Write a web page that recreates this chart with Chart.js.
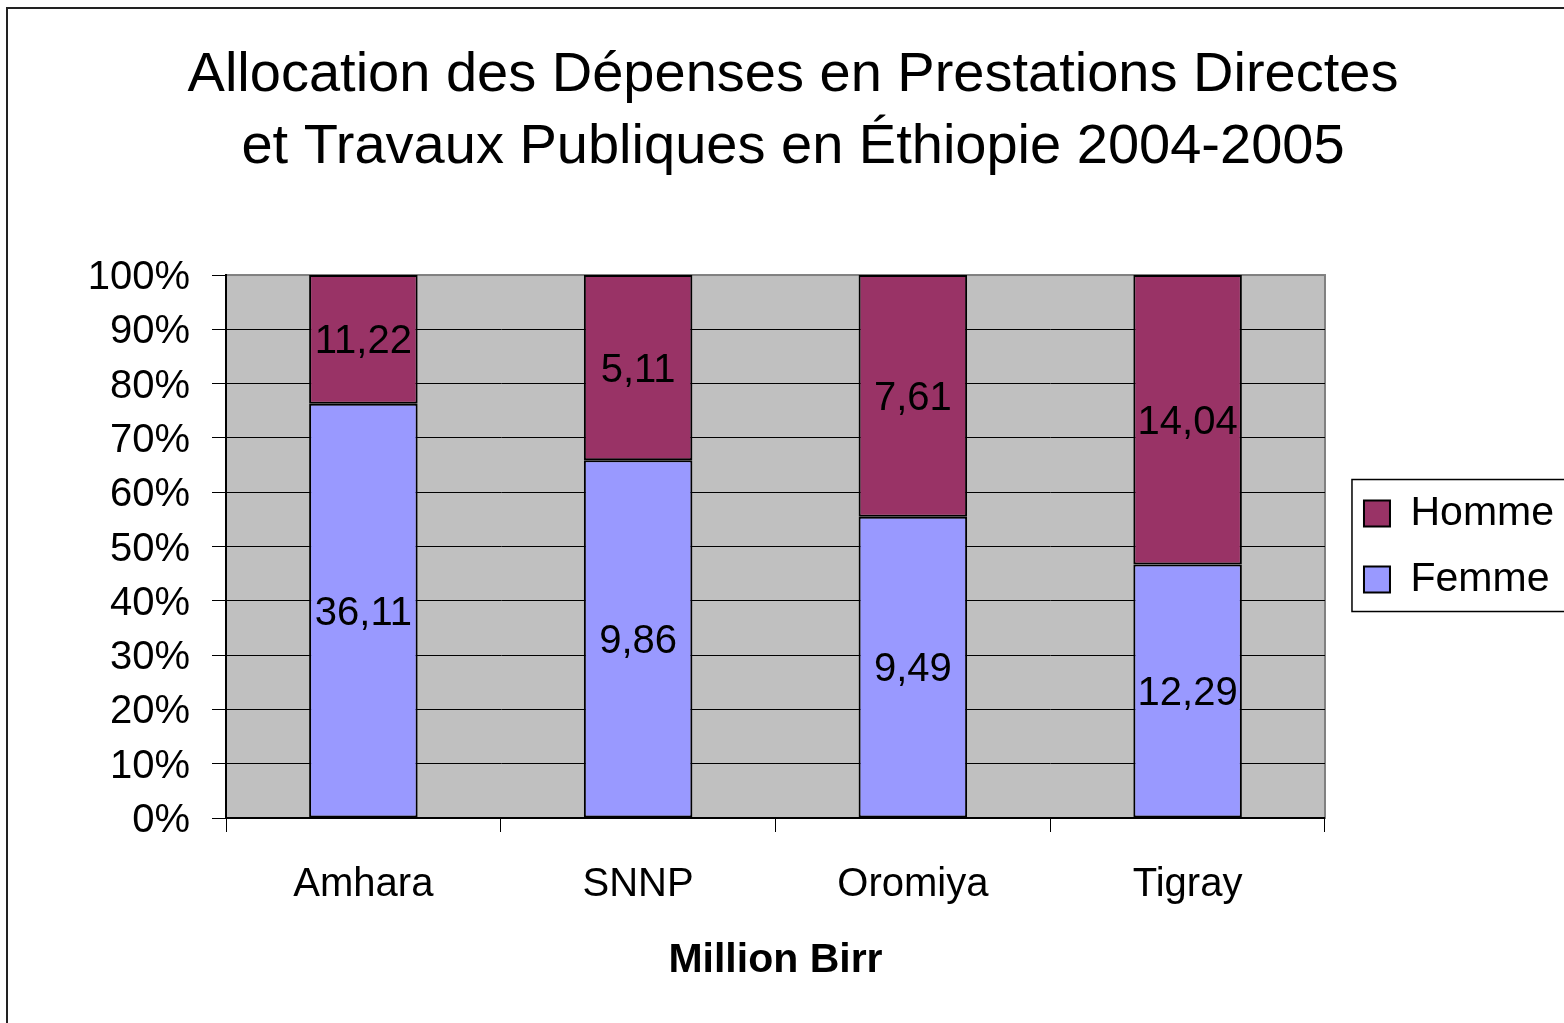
<!DOCTYPE html>
<html>
<head>
<meta charset="utf-8">
<script src="https://cdn.jsdelivr.net/npm/chart.js@4"></script>
<style>
html, body { margin: 0; padding: 0; background: #fff; overflow: hidden; width: 1564px; height: 1023px; }
#frame { position: absolute; left: 6px; top: 7px; width: 1700px; height: 1200px; border-left: 2px solid #222; border-top: 2px solid #222; }
canvas { position: absolute; left: 0; top: 0; }
</style>
</head>
<body>
<div id="frame"></div>
<canvas id="myChart" width="1564" height="1023"></canvas>
<script>
const regions = ['Amhara', 'SNNP', 'Oromiya', 'Tigray'];
const femme = [36.11, 9.86, 9.49, 12.29];
const homme = [11.22, 5.11, 7.61, 14.04];
const yTicks = [0, 10, 20, 30, 40, 50, 60, 70, 80, 90, 100];

// 100% stacked: share of each region's total
const femmePct = femme.map((v, i) => v / (v + homme[i]) * 100);
const hommePct = homme.map((v, i) => v / (femme[i] + v) * 100);

const FONT = '"Liberation Sans", Arial, sans-serif';
Chart.defaults.font.family = FONT;
Chart.defaults.color = '#000';

const plotBg = {
    id: 'plotBg',
    beforeDraw(chart) {
        const { ctx, chartArea: a } = chart;
        ctx.save();
        ctx.fillStyle = '#C0C0C0';
        ctx.fillRect(a.left, a.top, a.width, a.height);
        ctx.strokeStyle = '#808080';
        ctx.lineWidth = 2;
        ctx.strokeRect(a.left, a.top, a.width, a.height);
        ctx.restore();
    }
};

const valueLabels = {
    id: 'valueLabels',
    afterDatasetsDraw(chart) {
        const ctx = chart.ctx;
        ctx.save();
        ctx.font = '40px ' + FONT;
        ctx.fillStyle = '#000';
        ctx.textAlign = 'center';
        ctx.textBaseline = 'middle';
        chart.data.datasets.forEach((ds, i) => {
            chart.getDatasetMeta(i).data.forEach((bar, j) => {
                const y = (bar.y + bar.base) / 2 + 3;
                ctx.fillText(ds.raw[j].toFixed(2).replace('.', ','), bar.x, y);
            });
        });
        ctx.restore();
    }
};

const legendFrame = {
    id: 'legendFrame',
    afterDraw(chart) {
        const boxes = chart.legend && chart.legend.legendHitBoxes;
        if (!boxes || !boxes.length) return;
        const ctx = chart.ctx;
        const first = boxes[0], last = boxes[boxes.length - 1];
        const left = first.left - 12;
        const top = first.top + first.height / 2 - 34;
        const bottom = last.top + last.height / 2 + 32;
        ctx.save();
        ctx.strokeStyle = '#000';
        ctx.lineWidth = 1.5;
        ctx.strokeRect(left, top, chart.width - left + 5, bottom - top);
        ctx.restore();
    }
};

const ctx = document.getElementById('myChart').getContext('2d');
const myChart = new Chart(ctx, {
    type: 'bar',
    data: {
        labels: regions,
        datasets: [
            {
                label: 'Femme',
                data: femmePct,
                raw: femme,
                backgroundColor: '#9999FF',
                borderColor: '#000',
                borderWidth: 2,
                borderSkipped: false
            },
            {
                label: 'Homme',
                data: hommePct,
                raw: homme,
                backgroundColor: '#993366',
                borderColor: '#000',
                borderWidth: 2,
                borderSkipped: false
            }
        ]
    },
    options: {
        responsive: false,
        animation: false,
        layout: { padding: { left: 22, right: 0, top: 0, bottom: 38 } },
        datasets: { bar: { categoryPercentage: 1, barPercentage: 0.395 } },
        plugins: {
            title: {
                display: true,
                text: ['Allocation des Dépenses en Prestations Directes',
                       'et Travaux Publiques en Éthiopie 2004-2005'],
                font: { size: 56, weight: 'normal', lineHeight: 1.286 },
                color: '#000',
                padding: { top: 40, bottom: 91 }
            },
            legend: {
                position: 'right',
                fullSize: false,
                reverse: true,
                labels: {
                    boxWidth: 26,
                    boxHeight: 26,
                    padding: 25,
                    color: '#000',
                    font: { size: 41 }
                }
            },
            tooltip: { enabled: false }
        },
        scales: {
            x: {
                stacked: true,
                afterFit(s) { s.height = 167; },
                grid: { display: true, drawOnChartArea: false, offset: true, tickLength: 14, color: '#000' },
                border: { color: '#000', width: 2 },
                ticks: { font: { size: 40 }, color: '#000', padding: 29 },
                title: {
                    display: true,
                    text: 'Million Birr',
                    font: { size: 41, weight: 'bold' },
                    color: '#000',
                    padding: { top: 0, bottom: 0 }
                }
            },
            y: {
                stacked: true,
                min: 0,
                max: 100,
                afterFit(s) { s.width = 204; },
                afterBuildTicks(s) { s.ticks = yTicks.map(v => ({ value: v })); },
                ticks: { autoSkip: false, labelOffset: 3, font: { size: 40 }, color: '#000', padding: 22, callback: v => v + '%' },
                grid: {
                    color: c => (c.tick && c.tick.value === 100) ? '#808080' : '#000',
                    tickColor: '#000',
                    tickLength: 14
                },
                border: { color: '#000', width: 2 }
            },
            gap: {
                type: 'linear',
                position: 'right',
                display: true,
                grid: { display: false },
                border: { display: false },
                ticks: { display: false },
                afterFit(s) { s.width = 14; }
            }
        }
    },
    plugins: [plotBg, valueLabels, legendFrame]
});
</script>
</body>
</html>
